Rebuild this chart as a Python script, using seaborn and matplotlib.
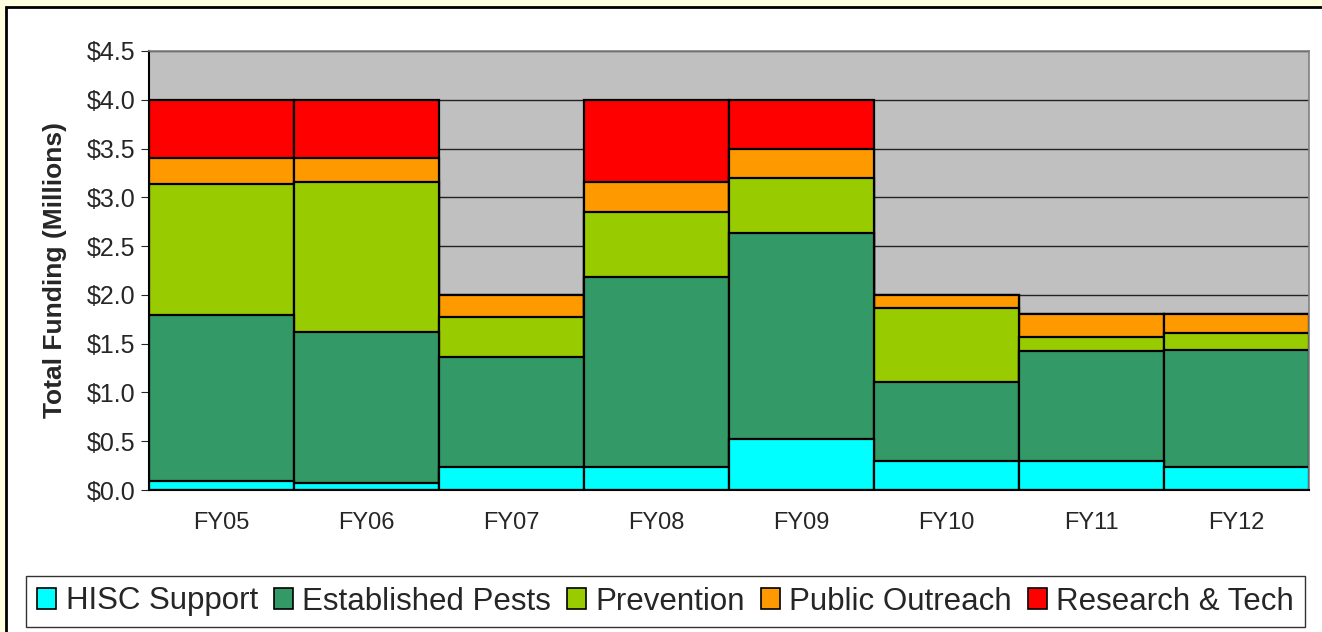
# Librairies de bases
import numpy as np
import pandas as pd

# Graphique
import matplotlib
matplotlib.use("Agg")
import matplotlib.pyplot as plt
from matplotlib.patches import Patch, Rectangle
from matplotlib.ticker import FuncFormatter, MultipleLocator, FixedLocator
import seaborn as sns

##########################################################
# Données (millions de dollars)

years = ["FY05", "FY06", "FY07", "FY08", "FY09", "FY10", "FY11", "FY12"]
hisc_support = [0.09, 0.07, 0.24, 0.24, 0.52, 0.30, 0.30, 0.24]
established_pests = [1.70, 1.55, 1.12, 1.94, 2.11, 0.81, 1.12, 1.20]
prevention = [1.35, 1.54, 0.41, 0.67, 0.57, 0.76, 0.15, 0.17]
public_outreach = [0.26, 0.24, 0.23, 0.31, 0.30, 0.13, 0.23, 0.19]
research_tech = [0.60, 0.60, 0.00, 0.84, 0.50, 0.00, 0.00, 0.00]

series = ["HISC Support", "Established Pests", "Prevention",
          "Public Outreach", "Research & Tech"]
colors = ["#00FFFF", "#339966", "#99CC00", "#FF9900", "#FF0000"]

##########################################################

sns.set_style("white")
plt.rcParams["font.family"] = ["Liberation Sans", "DejaVu Sans"]

df = pd.DataFrame({
    "year": years,
    "HISC Support": hisc_support,
    "Established Pests": established_pests,
    "Prevention": prevention,
    "Public Outreach": public_outreach,
    "Research & Tech": research_tech,
})
cumul = df[series].cumsum(axis=1)

fig = plt.figure(figsize=(13.22, 6.32), dpi=100, facecolor="#FFFFE0")
# panneau blanc avec bordure noire
fig.patches.append(Rectangle((6 / 1322, -0.1), 1.2, 1.1 - 7 / 632,
                             transform=fig.transFigure, facecolor="white",
                             edgecolor="black", linewidth=2, zorder=-10))

ax = fig.add_axes([149 / 1322, 1 - 490 / 632, 1160 / 1322, 439 / 632])
ax.set_zorder(1)
ax.set_facecolor("#C0C0C0")
ax.set_axisbelow(True)
ax.yaxis.grid(True, color="#222222", linewidth=1)

# barres empilées : on dessine les cumuls du plus haut au plus bas
for name, col in zip(series[::-1], colors[::-1]):
    sns.barplot(x=df["year"], y=cumul[name], color=col, width=1.0,
                edgecolor="black", linewidth=1.6, saturation=1, ax=ax)

ax.set_xlim(-0.5, len(years) - 0.5)
ax.set_ylim(0, 4.5)
ax.yaxis.set_major_locator(MultipleLocator(0.5))
ax.yaxis.set_major_formatter(FuncFormatter(lambda v, p: f"${v:.1f}"))
ax.xaxis.set_minor_locator(FixedLocator(np.arange(-0.5, len(years), 1.0)))
ax.tick_params(axis="x", which="major", length=0, pad=16, labelsize=17)
ax.tick_params(axis="x", which="minor", length=6, color="#444444", direction="out")
ax.tick_params(axis="y", length=6, direction="out", left=True, labelsize=18, pad=4)
ax.set_xlabel("")
ax.set_ylabel("Total Funding (Millions)", fontsize=19, fontweight="bold", labelpad=14)

for side in ["top", "right"]:
    ax.spines[side].set_color("#808080")
    ax.spines[side].set_linewidth(1.2)
for side in ["left", "bottom"]:
    ax.spines[side].set_color("black")
    ax.spines[side].set_linewidth(1.5)

handles = [Patch(facecolor=c, edgecolor="black", linewidth=1.2) for c in colors]
leg = fig.legend(handles, series, ncol=5, loc="center",
                 bbox_to_anchor=((21 + 1310) / 2 / 1322, 1 - 601.5 / 632),
                 fontsize=22.5, frameon=True, fancybox=False,
                 handlelength=0.62, handleheight=0.62, handletextpad=0.3,
                 borderaxespad=0, borderpad=0.35, columnspacing=0.5)
leg.get_frame().set_edgecolor("black")
leg.get_frame().set_linewidth(1)

fig.savefig("out.png", dpi=100, facecolor=fig.get_facecolor())
